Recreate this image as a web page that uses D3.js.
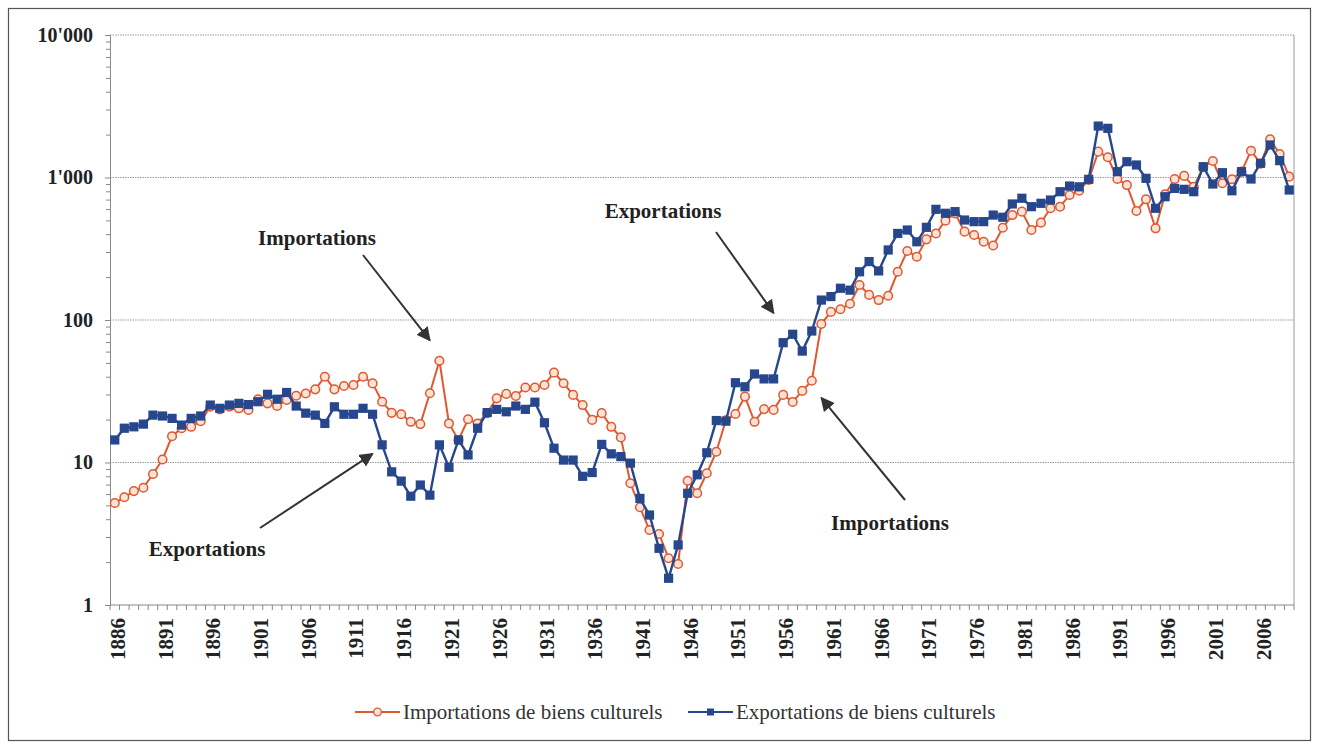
<!DOCTYPE html>
<html>
<head>
<meta charset="utf-8">
<script src="https://cdn.jsdelivr.net/npm/d3@7.9.0/dist/d3.min.js"></script>
<style>
  body { margin: 0; background: #fff; }
  svg { display: block; font-family: "Liberation Serif", "Times New Roman", serif; }
</style>
</head>
<body>
<svg id="chart" width="1318" height="747"></svg>
<script>
// years 1886 - 2009
const years = d3.range(1886, 2010);

const importations = [
  5.2, 5.7, 6.3, 6.65, 8.3, 10.5, 15.3, 17.4, 17.8, 19.5,
  24.6, 23.6, 24.6, 24.0, 23.4, 27.8, 26.0, 24.9, 27.5, 29.4,
  30.5, 32.6, 40, 32.6, 34.4, 35, 40, 35.9, 26.7, 22.3,
  21.8, 19.3, 18.6, 30.6, 51.8, 18.8, 14.4, 20.1, 18.8, 22.2,
  28.2, 30.3, 29.3, 33.6, 33.6, 35, 42.7, 36, 29.8, 25.3,
  19.9, 22.2, 17.8, 15, 7.15, 4.85, 3.36, 3.15, 2.13, 1.94,
  7.45, 6.08, 8.4, 11.9, 19.8, 21.9, 29, 19.3, 23.7, 23.4,
  29.8, 26.6, 31.8, 37.5, 93.7, 114, 119, 130, 176, 150,
  138, 148, 218, 305, 278, 368, 405, 497, 560, 417,
  395, 354, 333, 444, 545, 576, 428, 482, 608, 624,
  754, 807, 960, 1518, 1386, 976, 885, 582, 703, 440,
  762, 976, 1026, 860, 1180, 1305, 912, 971, 1100, 1542,
  1250, 1854, 1462, 1014
];

const exportations = [
  14.4, 17.4, 17.8, 18.6, 21.5, 21.2, 20.4, 18.3, 20.4, 21.2,
  25.3, 24.0, 25.3, 26.0, 25.5, 26.7, 30.1, 27.8, 31.0, 24.9,
  22.2, 21.5, 18.8, 24.6, 21.8, 21.8, 24.0, 21.8, 13.3, 8.6,
  7.4, 5.8, 6.95, 5.9, 13.3, 9.25, 14.4, 11.3, 17.4, 22.4,
  23.6, 22.7, 24.9, 23.6, 26.5, 19, 12.6, 10.4, 10.4, 8.0,
  8.5, 13.4, 11.5, 11.0, 9.9, 5.6, 4.28, 2.5, 1.54, 2.64,
  6.08, 8.2, 11.7, 19.7, 19.5, 36.3, 34.0, 41.8, 38.6, 38.6,
  69.3, 79.4, 60.5, 83.7, 138, 146, 167, 162, 218, 257,
  221, 310, 405, 428, 354, 447, 598, 561, 576, 503,
  490, 490, 545, 526, 652, 715, 624, 659, 695, 795,
  871, 860, 971, 2296, 2213, 1099, 1291, 1224, 987, 608,
  733, 839, 826, 795, 1191, 900, 1081, 807, 1099, 976,
  1259, 1691, 1313, 817
];

const yTicks = [1, 10, 100, 1000, 10000];
const yTickLabels = ["1", "10", "100", "1'000", "10'000"];
const xLabelYears = d3.range(1886, 2010, 5);

const seriesNames = ["Importations de biens culturels", "Exportations de biens culturels"];

// annotations: label, text position, arrow start, arrow end (year, value)
const notes = [
  { text: "Importations", tx: 317, ty: 245, ax: 363, ay: 255, year: 1919, value: 72 },
  { text: "Exportations", tx: 663, ty: 218, ax: 716, ay: 232, year: 1955, value: 112 },
  { text: "Exportations", tx: 207, ty: 556, ax: 260, ay: 528, year: 1913, value: 11.5 },
  { text: "Importations", tx: 890, ty: 530, ax: 905, ay: 500, year: 1960, value: 28.4 }
];

const colImp = "#e0582f";
const colExp = "#27478d";

const svg = d3.select("#chart");

// outer frame
svg.append("rect")
  .attr("x", 8.5).attr("y", 8.5)
  .attr("width", 1302).attr("height", 732)
  .attr("fill", "none").attr("stroke", "#555").attr("stroke-width", 1.2);

const plotLeft = 110, plotRight = 1294, plotTop = 35, plotBottom = 605;

const x = d3.scaleBand().domain(years).range([plotLeft, plotRight]);
const y = d3.scaleLog().domain([1, 10000]).range([plotBottom, plotTop]);
const cx = d => x(d) + x.bandwidth() / 2;

// gridlines
svg.append("g")
  .selectAll("line")
  .data(yTicks.slice(1))
  .join("line")
  .attr("x1", plotLeft).attr("x2", plotRight)
  .attr("y1", d => y(d)).attr("y2", d => y(d))
  .attr("stroke", "#9a9a9a")
  .attr("stroke-width", 1)
  .attr("stroke-dasharray", "1.5,1");

// right border
svg.append("line")
  .attr("x1", plotRight).attr("x2", plotRight).attr("y1", plotTop).attr("y2", plotBottom)
  .attr("stroke", "#9a9a9a");

// y axis with minor ticks
const minor = [];
for (let k = 0; k < 4; k++) {
  for (let m = 2; m <= 9; m++) minor.push(m * Math.pow(10, k));
}
svg.append("g")
  .attr("transform", `translate(${plotLeft},0)`)
  .call(d3.axisLeft(y).tickValues(minor).tickSize(4).tickFormat(""))
  .call(g => g.select(".domain").attr("stroke", "#888"))
  .call(g => g.selectAll(".tick line").attr("stroke", "#888"));

svg.append("g")
  .attr("transform", `translate(${plotLeft},0)`)
  .call(d3.axisLeft(y).tickValues(yTicks).tickSize(5)
    .tickFormat((d, i) => yTickLabels[i]).tickPadding(12))
  .call(g => g.select(".domain").remove())
  .call(g => g.selectAll(".tick line").attr("stroke", "#888"))
  .call(g => g.selectAll("text")
    .attr("font-family", "Liberation Serif")
    .attr("font-weight", "bold")
    .attr("font-size", 20)
    .attr("fill", "#222"));

// x axis: a tick between every year
const xAxis = svg.append("g").attr("transform", `translate(0,${plotBottom})`);
xAxis.append("line")
  .attr("x1", plotLeft).attr("x2", plotRight)
  .attr("stroke", "#888");
xAxis.selectAll("line.t")
  .data(years.concat([2010]))
  .join("line")
  .attr("class", "t")
  .attr("x1", d => d === 2010 ? plotRight : x(d))
  .attr("x2", d => d === 2010 ? plotRight : x(d))
  .attr("y1", 0).attr("y2", 5)
  .attr("stroke", "#888");
xAxis.selectAll("text")
  .data(xLabelYears)
  .join("text")
  .attr("transform", d => `translate(${cx(d) + 10},13) rotate(-90)`)
  .attr("text-anchor", "end")
  .attr("font-family", "Liberation Serif")
  .attr("font-weight", "bold")
  .attr("font-size", 21)
  .attr("fill", "#222")
  .text(d => d);

// lines
const line = d3.line()
  .x((d, i) => cx(years[i]))
  .y(d => y(d));

svg.append("path")
  .attr("d", line(importations))
  .attr("fill", "none")
  .attr("stroke", colImp)
  .attr("stroke-width", 2);

svg.append("g")
  .selectAll("circle")
  .data(importations)
  .join("circle")
  .attr("cx", (d, i) => cx(years[i]))
  .attr("cy", d => y(d))
  .attr("r", 4.3)
  .attr("fill", "#fbe3d8")
  .attr("stroke", colImp)
  .attr("stroke-width", 1.5);

svg.append("path")
  .attr("d", line(exportations))
  .attr("fill", "none")
  .attr("stroke", colExp)
  .attr("stroke-width", 2.4);

svg.append("g")
  .selectAll("rect")
  .data(exportations)
  .join("rect")
  .attr("x", (d, i) => cx(years[i]) - 4.6)
  .attr("y", d => y(d) - 4.6)
  .attr("width", 9.2).attr("height", 9.2)
  .attr("fill", colExp);

// annotations
svg.append("defs").append("marker")
  .attr("id", "arrow")
  .attr("viewBox", "0 0 10 10")
  .attr("refX", 9).attr("refY", 5)
  .attr("markerWidth", 7).attr("markerHeight", 7)
  .attr("orient", "auto")
  .append("path")
  .attr("d", "M0,0 L10,5 L0,10 z")
  .attr("fill", "#333");

const ann = svg.append("g");
notes.forEach(n => {
  ann.append("text")
    .attr("x", n.tx).attr("y", n.ty)
    .attr("text-anchor", "middle")
    .attr("font-family", "Liberation Serif")
    .attr("font-weight", "bold")
    .attr("font-size", 21)
    .attr("fill", "#222")
    .text(n.text);
  ann.append("line")
    .attr("x1", n.ax).attr("y1", n.ay)
    .attr("x2", cx(n.year)).attr("y2", y(n.value))
    .attr("stroke", "#333")
    .attr("stroke-width", 2)
    .attr("marker-end", "url(#arrow)");
});

// legend
const legend = svg.append("g").attr("transform", "translate(0,712)");
const legendItems = [
  { name: seriesNames[0], x0: 355, color: colImp, shape: "circle" },
  { name: seriesNames[1], x0: 688, color: colExp, shape: "square" }
];
legendItems.forEach(it => {
  legend.append("line")
    .attr("x1", it.x0).attr("x2", it.x0 + 45)
    .attr("stroke", it.color).attr("stroke-width", 2);
  if (it.shape === "circle") {
    legend.append("circle")
      .attr("cx", it.x0 + 22.5).attr("r", 3.8)
      .attr("fill", "#fbe3d8").attr("stroke", it.color).attr("stroke-width", 1.3);
  } else {
    legend.append("rect")
      .attr("x", it.x0 + 19).attr("y", -3.5)
      .attr("width", 7).attr("height", 7)
      .attr("fill", it.color);
  }
  legend.append("text")
    .attr("x", it.x0 + 48).attr("y", 7)
    .attr("font-family", "Liberation Serif")
    .attr("font-size", 21)
    .attr("fill", "#333")
    .text(it.name);
});
</script>
</body>
</html>
